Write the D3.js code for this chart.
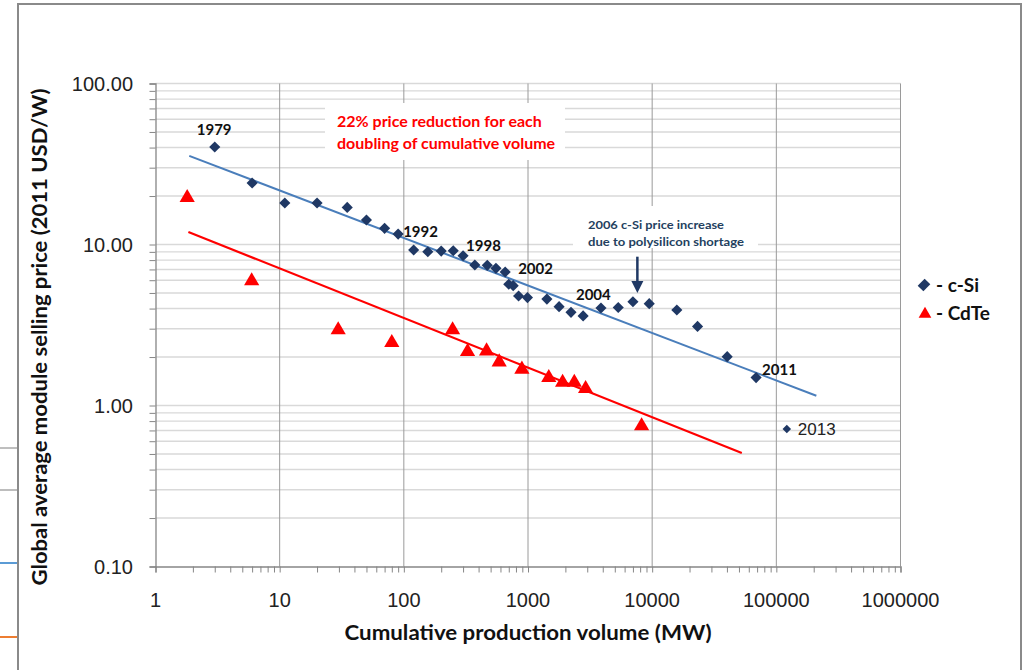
<!DOCTYPE html>
<html>
<head>
<meta charset="utf-8">
<script src="https://cdn.jsdelivr.net/npm/d3@7"></script>
<style>
  body { margin: 0; background: #fff; }
  svg { display: block; }
</style>
</head>
<body>
<svg id="chart" width="1025" height="670"></svg>
<script>
// ---- data ----
const xTicks = [1, 10, 100, 1000, 10000, 100000, 1000000];
const yTicks = [0.1, 1, 10, 100];

// c-Si: cumulative MW, price USD/W (2011)
const csiVolume = [3.0, 6.0, 11, 20, 35, 50, 70, 90, 120, 156, 200, 250, 300, 373, 470, 552, 655,
  700, 760, 840, 990, 1420, 1780, 2220, 2780, 3870, 5330, 7000, 9470, 15800, 23200, 40200, 68700];
const csiPrice = [40.3, 24.1, 18.1, 18.1, 17.0, 14.2, 12.6, 11.6, 9.24, 9.02, 9.1, 9.15, 8.52, 7.46, 7.42, 7.11, 6.75,
  5.66, 5.55, 4.79, 4.68, 4.58, 4.11, 3.79, 3.60, 4.03, 4.06, 4.41, 4.29, 3.92, 3.10, 2.01, 1.49];
const csi2013 = { volume: 121500, price: 0.714 };

// CdTe
const cdteVolume = [1.8, 5.95, 29.6, 80, 247, 326, 464, 586, 893, 1470, 1900, 2360, 2910, 8220];
const cdtePrice = [19.8, 6.02, 2.99, 2.49, 2.99, 2.19, 2.21, 1.89, 1.70, 1.51, 1.41, 1.41, 1.29, 0.757];

// trend lines (end points)
const csiTrend = [{ v: 1.87, p: 35.5 }, { v: 210000, p: 1.15 }];
const cdteTrend = [{ v: 1.84, p: 11.96 }, { v: 52700, p: 0.507 }];

// year labels: text and index of c-Si point
const yearText = ["1979", "1992", "1998", "2002", "2004", "2011"];
const yearIdx = [0, 7, 12, 16, 25, 32];

// arrow marking 2006
const arrow2006 = { v: 7600, from: 8.4, to: 5.0 };

// ---- layout ----
const svg = d3.select("#chart");
const pLeft = 155.5, pRight = 900.5, pTop = 83.5, pBottom = 566.5;

const x = d3.scaleLog().domain([1, 1e6]).range([pLeft, pRight]);
const y = d3.scaleLog().domain([0.1, 100]).range([pBottom, pTop]);

const C_SI = "#1f3864";
const C_SI_LINE = "#4a7ebb";
const C_CDTE = "#ff0000";
const AXIS = "#868686";
const CAL = "Lato, 'Open Sans', sans-serif";
const ARIAL = "'Liberation Sans', Arial, sans-serif";

// minor values
const minors = (lo, hi) => {
  const out = [];
  for (let d = lo; d < hi * 0.999; d *= 10) for (let k = 1; k <= 9; k++) out.push(d * k);
  out.push(hi);
  return out;
};
const xAll = minors(1, 1e6);
const yAll = minors(0.1, 100);

// slide frame and fragments on the left
svg.append("rect")
  .attr("x", 18).attr("y", 4).attr("width", 1003).attr("height", 720)
  .attr("fill", "none").attr("stroke", "#8a8a8a").attr("stroke-width", 2);
[[448, "#7f7f7f", 1], [490, "#bdbdbd", 2], [563, "#5b9bd5", 2], [637, "#ed7d31", 2]].forEach(([yy, c, w]) => {
  svg.append("line").attr("x1", 0).attr("x2", 17).attr("y1", yy).attr("y2", yy)
    .attr("stroke", c).attr("stroke-width", w);
});

// ===== grid =====
const grid = svg.append("g");
grid.append("g").selectAll("line")
  .data(yAll.filter(v => v > 0.1))
  .join("line")
  .attr("x1", pLeft).attr("x2", pRight)
  .attr("y1", d => y(d)).attr("y2", d => y(d))
  .attr("stroke", "#d9d9d9").attr("stroke-width", 1.4);

grid.append("g").selectAll("line")
  .data(xTicks.slice(1))
  .join("line")
  .attr("x1", d => x(d)).attr("x2", d => x(d))
  .attr("y1", pTop).attr("y2", pBottom)
  .attr("stroke", "#9a9a9a").attr("stroke-width", 1);

// white boxes behind annotations
svg.append("rect").attr("x", 325).attr("y", 103).attr("width", 240).attr("height", 57).attr("fill", "#fff");
svg.append("rect").attr("x", 573).attr("y", 206).attr("width", 185).attr("height", 42).attr("fill", "#fff");

// ===== axes =====
const yAxis = svg.append("g")
  .attr("transform", `translate(${pLeft},0)`)
  .call(d3.axisLeft(y).tickValues(yAll).tickSize(6).tickFormat(""));
const xAxis = svg.append("g")
  .attr("transform", `translate(0,${pBottom})`)
  .call(d3.axisBottom(x).tickValues(xAll).tickSize(6).tickFormat(""));
[yAxis, xAxis].forEach(a => {
  a.select(".domain").attr("stroke", AXIS).attr("stroke-width", 1.3);
  a.selectAll(".tick line").attr("stroke", AXIS).attr("stroke-width", 1);
});

svg.append("g").selectAll("text")
  .data(yTicks)
  .join("text")
  .attr("x", 133).attr("y", d => y(d)).attr("dy", "0.36em")
  .attr("text-anchor", "end")
  .style("font-family", ARIAL).style("font-size", "20px").attr("fill", "#222")
  .text(d3.format(".2f"));

svg.append("g").selectAll("text")
  .data(xTicks)
  .join("text")
  .attr("x", d => x(d)).attr("y", 607)
  .attr("text-anchor", "middle")
  .style("font-family", ARIAL).style("font-size", "20px").attr("fill", "#222")
  .text(d => d3.format("d")(d));

svg.append("text")
  .attr("x", 528).attr("y", 640)
  .attr("text-anchor", "middle")
  .attr("textLength", 367).attr("lengthAdjust", "spacingAndGlyphs")
  .style("font-family", CAL).style("font-size", "20px").style("font-weight", "bold").attr("fill", "#111")
  .text("Cumulative production volume (MW)");

svg.append("text")
  .attr("transform", "translate(47,337) rotate(-90)")
  .attr("text-anchor", "middle")
  .attr("textLength", 497).attr("lengthAdjust", "spacingAndGlyphs")
  .style("font-family", CAL).style("font-size", "20px").style("font-weight", "bold").attr("fill", "#111")
  .text("Global average module selling price (2011 USD/W)");

// ===== trend lines =====
const line = d3.line().x(d => x(d.v)).y(d => y(d.p));
svg.append("path").datum(csiTrend).attr("d", line)
  .attr("fill", "none").attr("stroke", C_SI_LINE).attr("stroke-width", 2);
svg.append("path").datum(cdteTrend).attr("d", line)
  .attr("fill", "none").attr("stroke", C_CDTE).attr("stroke-width", 2.2);

// ===== points =====
const diamond = d3.symbol(d3.symbolSquare, 62)();
const tri = d3.symbol(d3.symbolTriangle, 100)();

svg.append("g").selectAll("path")
  .data(csiVolume.map((v, i) => ({ v, p: csiPrice[i] })))
  .join("path")
  .attr("d", diamond)
  .attr("transform", d => `translate(${x(d.v)},${y(d.p)}) rotate(45)`)
  .attr("fill", C_SI);

svg.append("path")
  .attr("d", d3.symbol(d3.symbolSquare, 36)())
  .attr("transform", `translate(${x(csi2013.volume)},${y(csi2013.price)}) rotate(45)`)
  .attr("fill", C_SI);

svg.append("g").selectAll("path")
  .data(cdteVolume.map((v, i) => ({ v, p: cdtePrice[i] })))
  .join("path")
  .attr("d", tri)
  .attr("transform", d => `translate(${x(d.v)},${y(d.p) + 1})`)
  .attr("fill", C_CDTE);

// ===== year labels =====
const labelOffset = [[-18, -12], [5, 3], [3, -5], [13, 2], [-25, -8], [6, -3]];
svg.append("g").selectAll("text")
  .data(yearText)
  .join("text")
  .attr("x", (d, i) => x(csiVolume[yearIdx[i]]) + labelOffset[i][0])
  .attr("y", (d, i) => y(csiPrice[yearIdx[i]]) + labelOffset[i][1])
  .style("font-family", CAL).style("font-size", "15px").style("font-weight", "bold").attr("fill", "#111")
  .text(d => d);

svg.append("text")
  .attr("x", x(csi2013.volume) + 11).attr("y", y(csi2013.price) + 6)
  .style("font-family", ARIAL).style("font-size", "17px").attr("fill", "#222")
  .text("2013");

// ===== annotations =====
const red = svg.append("text")
  .style("font-family", CAL).style("font-size", "16px").style("font-weight", "bold").attr("fill", C_CDTE);
red.append("tspan").attr("x", 337).attr("y", 127).text("22% price reduction for each");
red.append("tspan").attr("x", 337).attr("y", 149).text("doubling of cumulative volume");

const navy = svg.append("text")
  .style("font-family", CAL).style("font-size", "12px").style("font-weight", "bold").attr("fill", "#243f60");
navy.append("tspan").attr("x", 588).attr("y", 229).attr("textLength", 136).attr("lengthAdjust", "spacingAndGlyphs")
  .text("2006  c-Si price increase");
navy.append("tspan").attr("x", 588).attr("y", 246).attr("textLength", 156).attr("lengthAdjust", "spacingAndGlyphs")
  .text("due to polysilicon shortage");

const ax = x(arrow2006.v), ay0 = y(arrow2006.from), ay1 = y(arrow2006.to);
svg.append("line")
  .attr("x1", ax).attr("x2", ax).attr("y1", ay0).attr("y2", ay1 - 10)
  .attr("stroke", "#1f3864").attr("stroke-width", 2.5);
svg.append("path")
  .attr("d", `M${ax - 6},${ay1 - 12} L${ax + 6},${ay1 - 12} L${ax},${ay1} Z`)
  .attr("fill", "#1f3864");

// ===== legend =====
const legend = svg.append("g");
legend.append("path")
  .attr("d", d3.symbol(d3.symbolSquare, 80)())
  .attr("transform", "translate(924,285) rotate(45) scale(0.9,1.1)")
  .attr("fill", C_SI);
legend.append("path")
  .attr("d", d3.symbol(d3.symbolTriangle, 70)())
  .attr("transform", "translate(925,314)")
  .attr("fill", C_CDTE);
[["- c-Si", 292], ["- CdTe", 320]].forEach(([t, yy]) => {
  legend.append("text").attr("x", 936).attr("y", yy)
    .style("font-family", CAL).style("font-size", "19px").style("font-weight", "bold").attr("fill", "#111")
    .text(t);
});
</script>
</body>
</html>
